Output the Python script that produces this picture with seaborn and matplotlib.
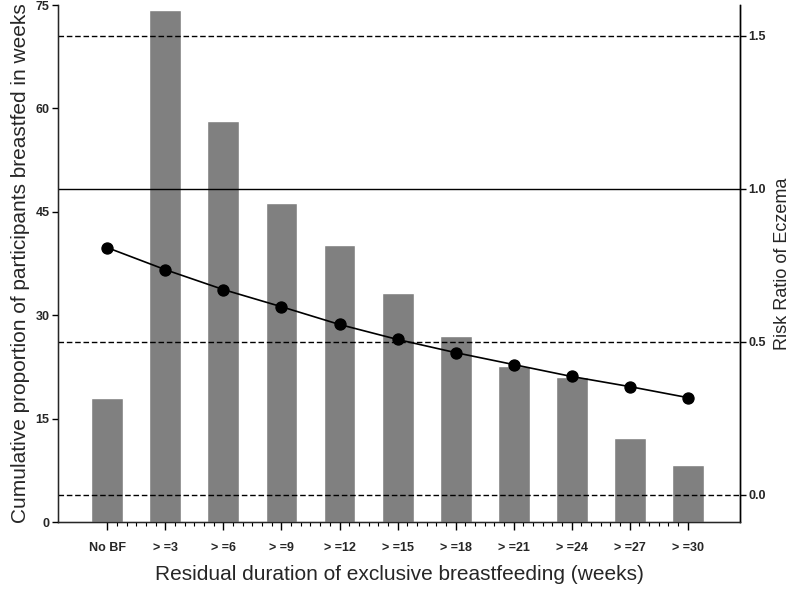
import numpy as np
import pandas as pd
import matplotlib
matplotlib.use("Agg")
import matplotlib.pyplot as plt
from matplotlib.ticker import FixedLocator
import seaborn as sns

categories = ['No BF', '> =3', '> =6', '> =9', '> =12', '> =15',
              '> =18', '> =21', '> =24', '> =27', '> =30']
proportion = [18.0, 74.3, 58.2, 46.3, 40.2, 33.2, 27.0, 22.6, 21.0, 12.2, 8.3]
risk_ratio = [0.807, 0.735, 0.670, 0.614, 0.556, 0.507, 0.464, 0.425, 0.386, 0.353, 0.317]
left_ticks = [0, 15, 30, 45, 60, 75]
right_ticks = [0.0, 0.5, 1.0, 1.5]

df = pd.DataFrame({'cat': categories, 'prop': proportion, 'rr': risk_ratio})

sns.set_style("ticks")
plt.rcParams['font.family'] = ['Liberation Sans', 'DejaVu Sans']

fig = plt.figure(figsize=(8, 5.9), dpi=100)
ax = fig.add_axes([0.0725, 0.115, 0.8525, 0.8765])

sns.barplot(data=df, x='cat', y='prop', color='#808080', saturation=1,
            width=0.55, ax=ax, zorder=1)
ax.set_xlim(-0.85, 10.9)
ax.set_ylim(0, 75)
ax.set_yticks(left_ticks)
ax.set_yticklabels([str(t) for t in left_ticks], fontsize=9, fontweight='bold')
ax.set_xticks(range(len(categories)))
ax.set_xticklabels(categories, fontsize=9, fontweight='bold')
ax.xaxis.set_minor_locator(FixedLocator(np.arange(0, len(categories) - 1 + 1e-9, 1 / 6)))
ax.tick_params(axis='x', which='major', length=6, width=1, color='black', pad=8)
ax.tick_params(axis='x', which='minor', length=3, width=0.8, color='black')
ax.tick_params(axis='y', length=4, width=1, color='black', pad=2)
ax.set_xlabel('Residual duration of exclusive breastfeeding (weeks)', fontsize=15, labelpad=8)
ax.set_ylabel('Cumulative proportion of participants breastfed in weeks', fontsize=15, labelpad=4)
for s in ['left', 'bottom', 'right']:
    ax.spines[s].set_color('black')
    ax.spines[s].set_linewidth(1)
ax.spines['top'].set_visible(False)

ax2 = ax.twinx()
ax2.set_ylim(-0.09, 1.60)
for v in right_ticks:
    ax2.axhline(v, color='black', linewidth=1, linestyle='-' if v == 1.0 else (0, (4, 2)), zorder=2)
sns.pointplot(data=df, x='cat', y='rr', color='black', markers='o', markersize=8,
              linewidth=1.2, ax=ax2, zorder=3)
ax.set_xlim(-0.85, 10.9)
ax2.set_xlim(-0.85, 10.9)
ax2.set_yticks(right_ticks)
ax2.set_yticklabels([f'{t:.1f}' for t in right_ticks], fontsize=9, fontweight='bold')
ax2.tick_params(axis='y', length=4, width=1, color='black', pad=2)
ax2.set_ylabel('Risk Ratio of Eczema', fontsize=13, labelpad=6)
ax2.set_xlabel('')
ax2.spines['top'].set_visible(False)
ax2.spines['right'].set_color('black')
ax2.spines['right'].set_linewidth(1)

fig.savefig('out.png', dpi=100)
